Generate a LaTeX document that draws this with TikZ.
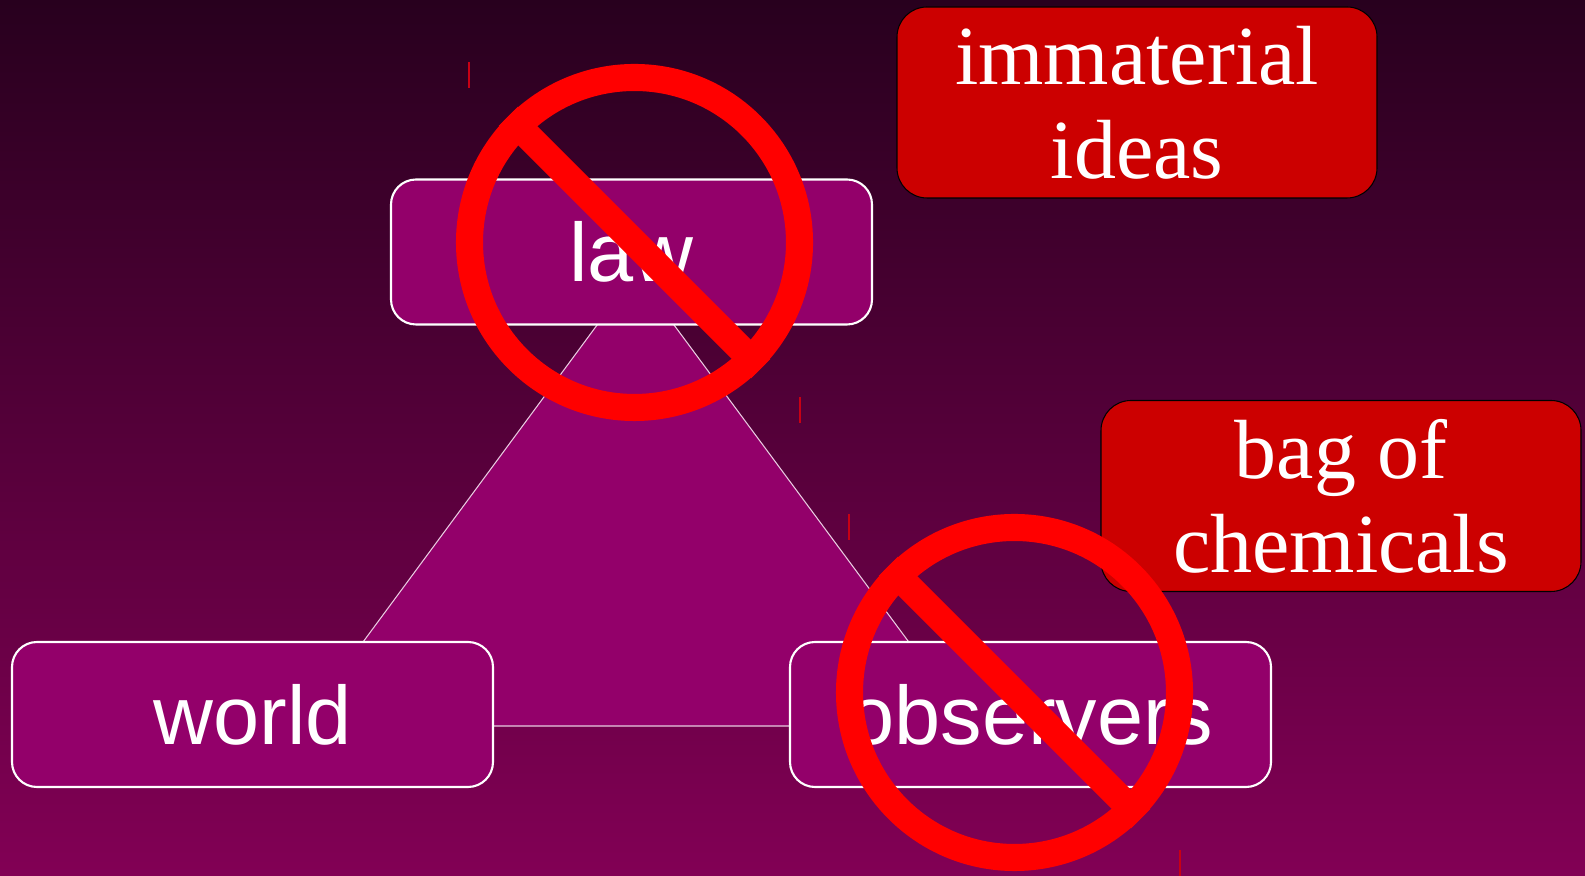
\documentclass[tikz,border=0pt]{standalone}
\usepackage{fontspec}
\setmainfont{Liberation Serif}
\setsansfont{Liberation Sans}
\usepackage{tikz}
\usetikzlibrary{calc}

\definecolor{slidetop}{RGB}{40,0,30}
\definecolor{slidebottom}{RGB}{130,0,85}
\definecolor{boxpurple}{RGB}{147,0,106}
\definecolor{boxred}{RGB}{204,0,0}
\definecolor{tickred}{RGB}{200,0,20}

\begin{document}
\begin{tikzpicture}[
    purplebox/.style={draw=white,line width=0.6pt,fill=boxpurple,rounded corners=0.25cm,minimum width=4.81cm,minimum height=1.45cm,text=white,font=\sffamily\fontsize{23.6}{26.7}\selectfont},
    redbox/.style={draw=black,line width=0.3pt,fill=boxred,rounded corners=0.3cm,minimum width=4.8cm,minimum height=1.91cm,text=white,align=center,font=\rmfamily\fontsize{23.9}{26.7}\selectfont},
    nosign/.style={circle,draw=red,line width=7.7pt,minimum size=3.3cm,inner sep=0pt},
    slash/.style={red,line width=7.7pt},
    tick/.style={tickred,line width=0.3pt}]
      \useasboundingbox (0,0) rectangle (15.85,-8.76);
      \shade[top color=slidetop,bottom color=slidebottom] (0,0) rectangle (15.85,-8.76);
      % triangle behind the three boxes
      \coordinate (top) at (6.355,-2.73);
      \coordinate (left) at (3.01,-7.26);
      \coordinate (right) at (9.71,-7.26);
      \fill[boxpurple] (top) -- (left) -- (right) -- cycle;
      \draw[white!80!boxpurple,line width=0.3pt] (top) -- (left) -- (right) -- cycle;
      \node[purplebox] (law) at (6.315,-2.52) {law};
      \node[purplebox] (world) at (2.525,-7.145) {world};
      \node[purplebox] (observers) at (10.305,-7.145) {observers};
      \node[redbox] (ideas) at (11.37,-1.025) {immaterial\\ideas};
      \node[redbox] (chemicals) at (13.41,-4.96) {bag of\\chemicals};
      % no signs
      \node[nosign] (nolaw) at (6.345,-2.425) {};
      \draw[slash] (nolaw.north west) -- (nolaw.south east);
      \node[nosign] (noobservers) at (10.145,-6.925) {};
      \draw[slash] (noobservers.north west) -- (noobservers.south east);
      \draw[tick] ($(nolaw)+(-1.655,1.805)$) -- ++(0,-0.26);
      \draw[tick] ($(nolaw)+(1.655,-1.545)$) -- ++(0,-0.26);
      \draw[tick] ($(noobservers)+(-1.655,1.785)$) -- ++(0,-0.26);
      \draw[tick] ($(noobservers)+(1.655,-1.575)$) -- ++(0,-0.26);
\end{tikzpicture}
\end{document}
